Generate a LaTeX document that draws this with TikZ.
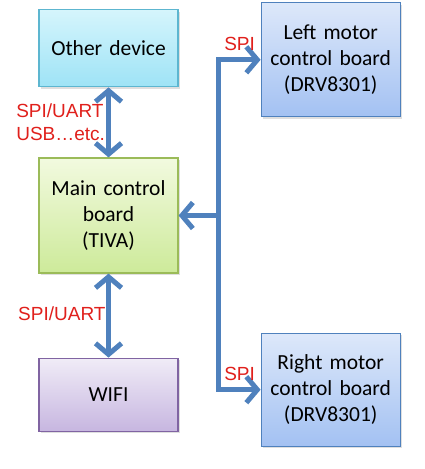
\documentclass[tikz,border=0pt]{standalone}
\usepackage{fontspec}
\setmainfont{Carlito}
\newfontfamily\labelfont{Liberation Sans}
\usetikzlibrary{arrows.meta,positioning}
\usetikzlibrary{shadows}
\definecolor{pilblue}{HTML}{4F81BD}
\definecolor{merkered}{HTML}{E0201C}
\tikzset{
	%Define standard arrow tip
	>={Straight Barb[length=11pt,width=26pt]},
	%Define style for boxes
	kasse/.style={
		rectangle,
		line width=1.2pt,
		inner sep=0pt,
		text width=139pt,
		align=center,
		font=\fontsize{21.5}{26}\selectfont,
		drop shadow={shadow xshift=2pt,shadow yshift=-2pt,opacity=0.25}},
	devbox/.style={kasse, draw=devline, top color=devtop, bottom color=devbot},
	tivabox/.style={kasse, draw=tivaline, top color=tivatop, bottom color=tivabot},
	wifibox/.style={kasse, draw=wifiline, top color=wifitop, bottom color=wifibot},
	drvbox/.style={kasse, draw=pilblue, top color=drvtop, bottom color=drvbot},
	% Define arrow style
	pil/.style={
		line width=5pt,
		draw=pilblue,
		line join=miter},
	% red labels
	merke/.style={font=\labelfont\fontsize{19}{23}\selectfont, text=merkered}
}
\definecolor{devline}{HTML}{5DB6D0}
\definecolor{devtop}{HTML}{D5F5FC}
\definecolor{devbot}{HTML}{9EE3F6}
\definecolor{tivaline}{HTML}{9BBB59}
\definecolor{tivatop}{HTML}{F2FADF}
\definecolor{tivabot}{HTML}{CDEA9A}
\definecolor{wifiline}{HTML}{8064A2}
\definecolor{wifitop}{HTML}{F0ECF7}
\definecolor{wifibot}{HTML}{C7B6E0}
\definecolor{drvtop}{HTML}{DDE8FA}
\definecolor{drvbot}{HTML}{A3C1F2}

\begin{document}
\begin{tikzpicture}
	\useasboundingbox (0,0) rectangle (425pt,-469pt);
	
	\node[tivabox, minimum height=115pt] (tiva) at (108.5pt,-215.5pt) {Main control\\board\\(TIVA)};
	\node[devbox, minimum height=77pt, above=70pt of tiva] (dev) {Other device};
	\node[wifibox, minimum height=73pt, below=84pt of tiva] (wifi) {WIFI};
	
	\node[drvbox, minimum height=114pt, right=82pt of dev, yshift=-11.5pt] (drvL) {Left motor\\control board\\(DRV8301)};
	\node[drvbox, minimum height=113pt, right=82pt of wifi, yshift=5pt] (drvR) {Right motor\\control board\\(DRV8301)};
	
	\coordinate[right=40pt of tiva.east] (tap);
	
	\draw[pil,<->] (dev) -- node[merke,left,align=left,inner sep=1pt] {SPI/UART\\USB…etc.} (tiva);
	\draw[pil,<->] (tiva) -- node[merke,left,inner sep=0.5pt,yshift=2pt] {SPI/UART} (wifi);
	
	\draw[pil,<->] (drvL.west) -| node[merke,pos=0.25,above=3pt] {SPI} (tap)
		|- node[merke,pos=0.75,above=3pt] {SPI} (drvR.west);
	\draw[pil,->] (tap) -- (tiva.east);
	
\end{tikzpicture}
\end{document}
